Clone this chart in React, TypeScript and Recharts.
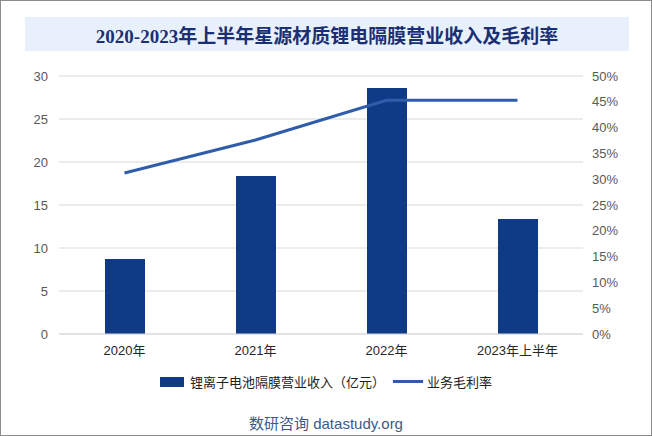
import { ComposedChart, Bar, Line, XAxis, YAxis, CartesianGrid, Legend } from "recharts";

const CATEGORIES = ["2020年", "2021年", "2022年", "2023年上半年"];
const REVENUE = [8.72, 18.37, 28.6, 13.37]; // 锂离子电池隔膜营业收入（亿元）
const MARGIN = [31.2, 37.6, 45.3, 45.3]; // 业务毛利率 %
const LEFT_TICKS = [0, 5, 10, 15, 20, 25, 30];
const RIGHT_TICKS = [0, 5, 10, 15, 20, 25, 30, 35, 40, 45, 50];

const BAR_COLOR = "#0f3a86";
const LINE_COLOR = "#2f5dab";
const FONT = "Arial, 'Liberation Sans', 'Noto Sans CJK SC', sans-serif";

const rows = CATEGORIES.map((c, i) => ({ cat: c, revenue: REVENUE[i], margin: MARGIN[i] }));

function LegendContent() {
  return (
    <div style={{ display: "flex", justifyContent: "center", alignItems: "center", fontSize: 13, color: "#222", fontFamily: FONT }}>
      <span style={{ display: "inline-block", width: 24, height: 10, background: BAR_COLOR, marginRight: 6 }} />
      <span>锂离子电池隔膜营业收入（亿元）</span>
      <span style={{ display: "inline-block", width: 30, height: 3, background: LINE_COLOR, margin: "0 4px 0 8px" }} />
      <span>业务毛利率</span>
    </div>
  );
}

export default function App() {
  return (
    <div style={{ position: "absolute", left: 0, top: 0, width: 652, height: 436, background: "#fff", boxSizing: "border-box", border: "1px solid #8c8c8c", fontFamily: FONT }}>
      <div style={{ position: "absolute", left: 24, top: 16, width: 604, height: 34, background: "#e8f0fb", display: "flex", alignItems: "center", justifyContent: "center", color: "#1b2f74", fontSize: 19, fontWeight: "bold", fontFamily: "'Liberation Serif', 'Noto Sans CJK SC', serif" }}>
        2020-2023年上半年星源材质锂电隔膜营业收入及毛利率
      </div>
      <div style={{ position: "absolute", left: -1, top: -1 }}>
        <ComposedChart width={652} height={400} data={rows} margin={{ top: 76, right: 9, left: 0, bottom: 36 }}>
          <CartesianGrid yAxisId="left" vertical={false} stroke="#d9d9d9" />
          <XAxis dataKey="cat" axisLine={{ stroke: "#d9d9d9" }} tickLine={false} tickMargin={6}
            tick={{ fontSize: 13, fill: "#262626", fontFamily: FONT }} interval={0} />
          <YAxis yAxisId="left" domain={[0, 30]} ticks={LEFT_TICKS} width={59} axisLine={false} tickLine={false}
            tickMargin={5} tick={{ fontSize: 13, fill: "#595959", fontFamily: FONT }} />
          <YAxis yAxisId="right" orientation="right" domain={[0, 50]} ticks={RIGHT_TICKS} width={60} axisLine={false}
            tickLine={false} tickMargin={3} tickFormatter={(v: number) => `${v}%`}
            tick={{ fontSize: 13, fill: "#595959", fontFamily: FONT }} />
          <Bar yAxisId="left" dataKey="revenue" fill={BAR_COLOR} barSize={40} isAnimationActive={false} />
          <Line yAxisId="right" dataKey="margin" stroke={LINE_COLOR} strokeWidth={3} dot={false} isAnimationActive={false} />
          <Legend verticalAlign="middle" align="center" content={() => <LegendContent />}
            wrapperStyle={{ top: 372, left: 0, width: 652 }} />
        </ComposedChart>
      </div>
      <div style={{ position: "absolute", left: 0, width: 650, top: 411, textAlign: "center", fontSize: 15, color: "#3a5a8c", fontFamily: FONT }}>
        数研咨询 datastudy.org
      </div>
    </div>
  );
}
